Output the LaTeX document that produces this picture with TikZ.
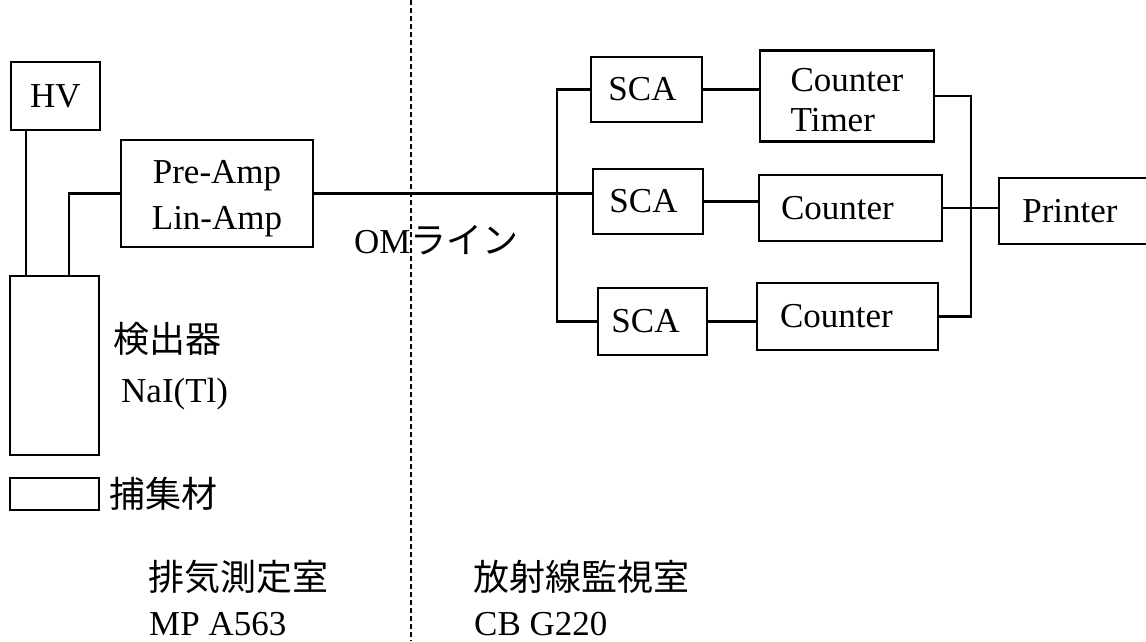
\documentclass[tikz,border=0pt]{standalone}
\usepackage{fontspec}
\setmainfont{Liberation Serif}
\newfontfamily\cjk{Noto Sans CJK JP}
\newcommand{\jp}{\cjk\fontsize{36}{42}\selectfont}
\begin{document}
\begin{tikzpicture}[x=1pt,y=-1pt,
  box/.style={draw,line width=2.2pt,inner sep=0pt,align=center},
  conn/.style={line width=2.2pt},
  lbl/.style={inner sep=0pt,anchor=west},
  blbl/.style={inner sep=0pt,anchor=base west},
  every node/.style={font=\fontsize{35}{38}\selectfont}]
\useasboundingbox (0,0) rectangle (1146,641);
% boxes
\node[box,minimum width=89,minimum height=68] (hv) at (55.5,96) {HV};
\node[box,minimum width=192,minimum height=107] (pre) at (217,193.5)
  {\raisebox{-5pt}[\height][\depth]{\begin{tabular}{@{}c@{}}Pre-Amp\\[8pt]Lin-Amp\end{tabular}}};
\node[box,minimum width=89,minimum height=179] (det) at (54.5,365.5) {};
\node[box,minimum width=89,minimum height=32] (trap) at (54.5,494) {};
\node[box,minimum width=111,minimum height=65] (sca1) at (646.5,89.5) {SCA\hspace*{8pt}};
\node[box,minimum width=110,minimum height=65] (sca2) at (648,201.5) {SCA\hspace*{9pt}};
\node[box,minimum width=109,minimum height=67] (sca3) at (652.5,321.5) {SCA\hspace*{14pt}};
\node[box,minimum width=174,minimum height=91] (ct) at (847,96)
  {\raisebox{-8pt}[\height][\depth]{\begin{tabular}{@{}l@{}}Counter\\[2pt]Timer\end{tabular}}};
\node[box,minimum width=183,minimum height=66] (c2) at (850.5,208) {Counter\hspace*{26pt}};
\node[box,minimum width=181,minimum height=67] (c3) at (847.5,316.5) {Counter\hspace*{22pt}};
\node[box,minimum width=170,minimum height=66,anchor=west] (pr) at (998,211) {};
\node[inner sep=0pt] (prt) at (1070,211) {Printer};
% labels
\node[lbl] (detl) at (113,339) {\jp 検出器};
\node[blbl] (nai) at (121,402) {NaI(Tl)};
\node[lbl] (trapl) at (109,494) {\jp 捕集材};
\node[lbl] (om) at (354,240) {OM{\jp ライン}};
\node[lbl] (room1) at (148,577) {\jp 排気測定室};
\node[blbl] (room1b) at (149,635) {MP A563};
\node[lbl] (room2) at (473,577) {\jp 放射線監視室};
\node[blbl] (room2b) at (474,635) {CB G220};
% connectors
\draw[conn] ([xshift=16]hv.south west) -- ([xshift=17]det.north west);
\draw[conn] ([xshift=60]det.north west) |- (pre.west);
\draw[conn] (pre.east) -- (pre.east -| sca2.west);
\draw[conn] (sca1.west) -- ++(-33,0) |- (sca3.west);
\draw[conn] (sca1.east) -- (sca1.east -| ct.west);
\draw[conn] (sca2.east) -- (sca2.east -| c2.west);
\draw[conn] (sca3.east) -- (sca3.east -| c3.west);
\draw[conn] (ct.east) -- ++(36,0) |- (c3.east);
\draw[conn] (c2.east) -- (c2.east -| pr.west);
% room divider
\coordinate (dtop) at (411,0);
\coordinate (dbot) at (411,641);
\draw[line width=1.6pt,dash pattern=on 5pt off 3pt] (dtop) -- (dbot);
\end{tikzpicture}
\end{document}
